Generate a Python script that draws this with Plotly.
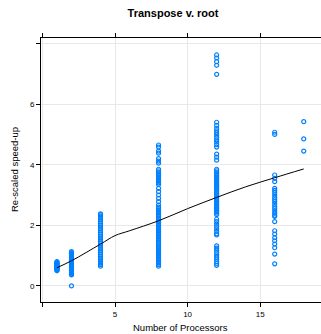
import plotly.graph_objects as go

# Observed re-scaled speed-up values per processor count
p1 = [0.50, 0.52, 0.54, 0.56, 0.58, 0.60, 0.62, 0.64, 0.66, 0.68, 0.70, 0.72, 0.74, 0.76, 0.78, 0.80, 0.57, 0.65, 0.73]
p2 = [0.00, 0.36, 0.38, 0.41, 0.44, 0.47, 0.50, 0.53, 0.56, 0.59, 0.62, 0.65, 0.68, 0.71, 0.74, 0.77, 0.80,
      0.83, 0.86, 0.89, 0.92, 0.95, 0.98, 1.01, 1.04, 1.07, 1.10, 1.13]
p4 = [0.65, 0.70, 0.75, 0.80, 0.86, 0.92, 0.98, 1.04, 1.10, 1.16, 1.22, 1.28, 1.34, 1.40, 1.46, 1.52, 1.58,
      1.64, 1.70, 1.76, 1.82, 1.88, 1.94, 2.00, 2.06, 2.12, 2.18, 2.24, 2.30, 2.35, 2.38]
p8 = [0.65, 0.70, 0.75, 0.80, 0.85, 0.90, 0.95, 1.00, 1.05, 1.10, 1.15, 1.20, 1.25, 1.30, 1.35, 1.40, 1.45,
      1.50, 1.55, 1.60, 1.65, 1.70, 1.75, 1.80, 1.85, 1.90, 1.95, 2.00, 2.05, 2.10, 2.15, 2.20, 2.25, 2.30,
      2.35, 2.40, 2.45, 2.50, 2.55, 2.60, 2.67, 2.78, 2.89, 3.00, 3.11, 3.22, 3.35, 3.40, 3.45, 3.50, 3.55,
      3.60, 3.65, 3.70, 3.75, 3.80, 3.85, 4.05, 4.12, 4.20, 4.38, 4.45, 4.58, 4.65]
p12 = [7.62, 7.52, 7.40, 7.28, 6.98, 5.40, 5.30, 5.20, 5.12, 5.05, 4.98, 4.90, 4.82, 4.75, 4.66, 4.58,
       4.35, 4.25, 4.15, 3.85, 3.80, 3.75, 3.70, 3.65, 3.60, 3.55, 3.50, 3.45, 3.40, 3.35, 3.30, 3.25, 3.20,
       3.15, 3.10, 3.05, 3.00, 2.95, 2.90, 2.85, 2.80, 2.75, 2.70, 2.65, 2.60, 2.55, 2.50, 2.45, 2.40, 2.35,
       2.20, 2.12, 2.04, 1.96, 1.88, 1.80, 1.72, 1.68, 1.32, 1.25, 1.18, 1.10, 1.02, 0.95, 0.88, 0.80, 0.74, 0.68]
p16 = [5.07, 5.00, 3.66, 3.55, 3.44, 3.22, 3.15, 3.08, 3.00, 2.92, 2.85, 2.78, 2.70, 2.62, 2.55, 2.47,
       2.40, 2.33, 2.29, 2.12, 1.82, 1.71, 1.59, 1.49, 1.38, 1.26, 1.05, 0.73]
p18 = [5.42, 4.85, 4.45]

groups = [(1, p1), (2, p2), (4, p4), (8, p8), (12, p12), (16, p16), (18, p18)]

# Smoothed trend
smooth_x = [1, 2, 4, 5, 6, 8, 10, 12, 14, 16, 18]
smooth_y = [0.60, 0.83, 1.38, 1.66, 1.82, 2.15, 2.55, 2.92, 3.27, 3.57, 3.86]

xs, ys = [], []
for n, vals in groups:
    xs += [n] * len(vals)
    ys += vals

fig = go.Figure()
fig.add_trace(go.Scatter(
    x=xs, y=ys, mode="markers",
    marker=dict(symbol="circle-open", size=4, color="#0080ff", line=dict(width=1.2, color="#0080ff")),
    showlegend=False, hoverinfo="skip"))
fig.add_trace(go.Scatter(
    x=smooth_x, y=smooth_y, mode="lines", line=dict(color="black", width=1, shape="spline"),
    showlegend=False, hoverinfo="skip"))

font = "Liberation Sans, Arial, Helvetica, sans-serif"
axis_common = dict(showline=True, linecolor="black", linewidth=1, mirror="ticks",
                   ticks="outside", ticklen=4, tickcolor="black", tickwidth=1,
                   showgrid=True, gridcolor="#e8e8e8", gridwidth=1, zeroline=False,
                   automargin=False,
                   tickfont=dict(size=8, color="black", family=font))

W, H = 321, 334
L, R, T, B = 41, 0, 38, 32

fig.update_layout(
    width=W, height=H,
    margin=dict(l=L, r=R, t=T, b=B, autoexpand=False),
    paper_bgcolor="white", plot_bgcolor="white",
    font=dict(family=font, color="black"),
    title=dict(text="<b>Transpose v. root</b>", x=173 / W, xref="container", xanchor="center",
               y=1 - 13 / H, yref="container", yanchor="middle",
               font=dict(size=11, color="black", family=font)),
    xaxis=dict(range=[-0.1, 19.19], tickvals=[0, 5, 10, 15], ticktext=["", "5", "10", "15"],
               **axis_common),
    yaxis=dict(range=[-0.53, 8.18], tickvals=[0, 2, 4, 6, 8], ticktext=["0", "2", "4", "6", ""],
               **axis_common),
    annotations=[
        dict(text="Number of Processors", xref="paper", yref="paper",
             x=(180 - L) / (W - L - R), y=-(327 - (H - B)) / (H - T - B),
             xanchor="center", yanchor="middle", showarrow=False,
             font=dict(size=9.5, family=font, color="black")),
        dict(text="Re-scaled speed-up", xref="paper", yref="paper", textangle=-90,
             x=-(L - 14) / (W - L - R), y=(H - B - 170) / (H - T - B),
             xanchor="center", yanchor="middle", showarrow=False,
             font=dict(size=9.5, family=font, color="black")),
    ],
)

fig.write_html("out.html", config={"displayModeBar": False},
               post_script="document.body.style.margin='0';document.body.style.overflow='hidden';")
